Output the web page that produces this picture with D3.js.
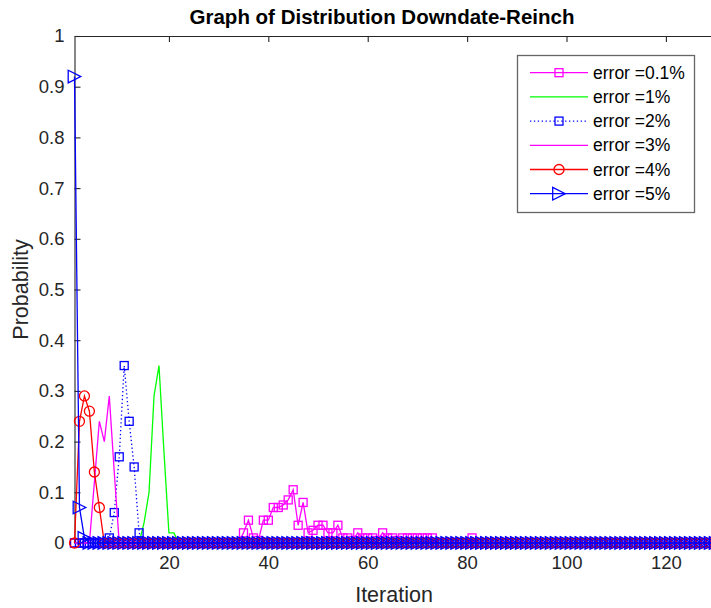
<!DOCTYPE html>
<html>
<head>
<meta charset="utf-8">
<script src="https://cdn.jsdelivr.net/npm/d3@7"></script>
<style>
  body { margin: 0; background: #fff; }
  svg { display: block; font-family: "Liberation Sans", Arial, sans-serif; }
</style>
</head>
<body>
<svg id="chart" width="711" height="608"></svg>
<script>
// Iteration index for each probability value (1..130)
const iterations = d3.range(1, 131);

// Probability per iteration, one array per error level
const err01 = [
  0,0,0,0,0,0,0,0,0,0,
  0,0,0,0,0,0,0,0,0,0,
  0,0,0,0,0,0,0,0,0,0,
  0,0,0,0,0.02,0.045,0.01,0.005,0.045,0.045,
  0.07,0.07,0.075,0.085,0.105,0.035,0.08,0.02,0.025,0.035,
  0.035,0.02,0.02,0.035,0.01,0.01,0.005,0.02,0.01,0.01,
  0.01,0.005,0.02,0.01,0.01,0.005,0.01,0.01,0.01,0.01,
  0.01,0.01,0.01,0,0,0,0,0,0,0,
  0.01,0,0,0,0,0,0,0,0,0,
  0,0,0,0,0,0,0,0,0,0,
  0,0,0,0,0,0,0,0,0,0,
  0,0,0,0,0,0,0,0,0,0,
  0,0,0,0,0,0,0,0,0,0
];
const err1 = [
  0,0,0,0,0,0,0,0,0,0,
  0,0,0,0,0.04,0.1,0.29,0.35,0.18,0.02,
  0.02,0,0,0,0,0,0,0,0,0,
  0,0,0,0,0,0,0,0,0,0,
  0,0,0,0,0,0,0,0,0,0,
  0,0,0,0,0,0,0,0,0,0,
  0,0,0,0,0,0,0,0,0,0,
  0,0,0,0,0,0,0,0,0,0,
  0,0,0,0,0,0,0,0,0,0,
  0,0,0,0,0,0,0,0,0,0,
  0,0,0,0,0,0,0,0,0,0,
  0,0,0,0,0,0,0,0,0,0,
  0,0,0,0,0,0,0,0,0,0
];
const err2 = [
  0,0,0,0,0,0,0,0.01,0.06,0.17,
  0.35,0.24,0.15,0.02,0,0,0,0,0,0,
  0,0,0,0,0,0,0,0,0,0,
  0,0,0,0,0,0,0,0,0,0,
  0,0,0,0,0,0,0,0,0,0,
  0,0,0,0,0,0,0,0,0,0,
  0,0,0,0,0,0,0,0,0,0,
  0,0,0,0,0,0,0,0,0,0,
  0,0,0,0,0,0,0,0,0,0,
  0,0,0,0,0,0,0,0,0,0,
  0,0,0,0,0,0,0,0,0,0,
  0,0,0,0,0,0,0,0,0,0,
  0,0,0,0,0,0,0,0,0,0
];
const err3 = [
  0,0,0,0,0.12,0.24,0.2,0.29,0.14,0,
  0,0,0,0,0,0,0,0,0,0,
  0,0,0,0,0,0,0,0,0,0,
  0,0,0,0,0,0,0,0,0,0,
  0,0,0,0,0,0,0,0,0,0,
  0,0,0,0,0,0,0,0,0,0,
  0,0,0,0,0,0,0,0,0,0,
  0,0,0,0,0,0,0,0,0,0,
  0,0,0,0,0,0,0,0,0,0,
  0,0,0,0,0,0,0,0,0,0,
  0,0,0,0,0,0,0,0,0,0,
  0,0,0,0,0,0,0,0,0,0,
  0,0,0,0,0,0,0,0,0,0
];
const err4 = [
  0,0.24,0.29,0.26,0.14,0.07,0,0,0,0,
  0,0,0,0,0,0,0,0,0,0,
  0,0,0,0,0,0,0,0,0,0,
  0,0,0,0,0,0,0,0,0,0,
  0,0,0,0,0,0,0,0,0,0,
  0,0,0,0,0,0,0,0,0,0,
  0,0,0,0,0,0,0,0,0,0,
  0,0,0,0,0,0,0,0,0,0,
  0,0,0,0,0,0,0,0,0,0,
  0,0,0,0,0,0,0,0,0,0,
  0,0,0,0,0,0,0,0,0,0,
  0,0,0,0,0,0,0,0,0,0,
  0,0,0,0,0,0,0,0,0,0
];
const err5 = [
  0.92,0.07,0.01,0,0,0,0,0,0,0,
  0,0,0,0,0,0,0,0,0,0,
  0,0,0,0,0,0,0,0,0,0,
  0,0,0,0,0,0,0,0,0,0,
  0,0,0,0,0,0,0,0,0,0,
  0,0,0,0,0,0,0,0,0,0,
  0,0,0,0,0,0,0,0,0,0,
  0,0,0,0,0,0,0,0,0,0,
  0,0,0,0,0,0,0,0,0,0,
  0,0,0,0,0,0,0,0,0,0,
  0,0,0,0,0,0,0,0,0,0,
  0,0,0,0,0,0,0,0,0,0,
  0,0,0,0,0,0,0,0,0,0
];

const seriesNames = ["error =0.1%", "error =1%", "error =2%", "error =3%", "error =4%", "error =5%"];
const seriesValues = [err01, err1, err2, err3, err4, err5];

// Axis ticks
const xTicks = [20, 40, 60, 80, 100, 120];
const yTicks = [0, 0.1, 0.2, 0.3, 0.4, 0.5, 0.6, 0.7, 0.8, 0.9, 1];

// Line / marker styling per series
const styles = [
  { color: "#ff00ff", dash: null,    marker: "square" },
  { color: "#00ff00", dash: null,    marker: null },
  { color: "#0000ff", dash: "1.3,2.6", marker: "square" },
  { color: "#ff00ff", dash: null,    marker: null },
  { color: "#ff0000", dash: null,    marker: "circle" },
  { color: "#0000ff", dash: null,    marker: "triangle" }
];
const lineWidth = 1.3;

const svg = d3.select("#chart");
const axisColor = "#262626";

const x = d3.scaleLinear().domain([1, 130]).range([74.5, 715.6]);
const y = d3.scaleLinear().domain([0, 1]).range([543, 36]);

// Axes box: left and bottom axes with inward ticks, top edge mirrored
const gx = svg.append("g")
  .attr("transform", `translate(0,${y(0)})`)
  .call(d3.axisBottom(x).tickValues(xTicks).tickSizeInner(-6).tickSizeOuter(0).tickPadding(13));
const gTop = svg.append("g")
  .attr("transform", `translate(0,${y(1)})`)
  .call(d3.axisTop(x).tickValues(xTicks).tickSizeInner(-6).tickSizeOuter(0).tickFormat(""));
const gy = svg.append("g")
  .attr("transform", `translate(${x(1)},0)`)
  .call(d3.axisLeft(y).tickValues(yTicks).tickSizeInner(-6).tickSizeOuter(0).tickPadding(10)
    .tickFormat(d3.format("~g")));

[gx, gTop, gy].forEach(g => {
  g.selectAll("path.domain").attr("stroke", axisColor).attr("stroke-width", 1.1);
  g.selectAll(".tick line").attr("stroke", axisColor).attr("stroke-width", 1.1);
  g.selectAll(".tick text").attr("fill", axisColor)
    .style("font-family", '"Liberation Sans", Arial, sans-serif').style("font-size", "18.5px");
});

// Marker drawing helper
function drawMarker(g, type, cx, cy, color) {
  if (type === "square") {
    g.append("rect").attr("x", cx - 4).attr("y", cy - 4).attr("width", 8).attr("height", 8)
      .attr("fill", "none").attr("stroke", color).attr("stroke-width", lineWidth);
  } else if (type === "circle") {
    g.append("circle").attr("cx", cx).attr("cy", cy).attr("r", 5)
      .attr("fill", "none").attr("stroke", color).attr("stroke-width", lineWidth);
  } else if (type === "triangle") {
    const r = 6.3;
    g.append("path")
      .attr("d", `M${cx - r},${cy - r}L${cx + r},${cy}L${cx - r},${cy + r}Z`)
      .attr("fill", "none").attr("stroke", color).attr("stroke-width", lineWidth);
  }
}

const line = d3.line().x(d => x(d[0])).y(d => y(d[1]));

const plot = svg.append("g");
seriesValues.forEach((vals, i) => {
  const st = styles[i];
  const pts = vals.map((v, j) => [iterations[j], v]);
  const g = plot.append("g");
  g.append("path").datum(pts).attr("d", line)
    .attr("fill", "none").attr("stroke", st.color).attr("stroke-width", lineWidth)
    .attr("stroke-dasharray", st.dash);
  if (st.marker) pts.forEach(p => drawMarker(g, st.marker, x(p[0]), y(p[1]), st.color));
});

// Title and axis labels
svg.append("text").attr("x", 382).attr("y", 24).attr("text-anchor", "middle")
  .style("font-size", "20.5px").style("font-weight", "bold").attr("fill", "#000")
  .text("Graph of Distribution Downdate-Reinch");
svg.append("text").attr("x", 394).attr("y", 602).attr("text-anchor", "middle")
  .style("font-size", "21.5px").attr("fill", axisColor).text("Iteration");
svg.append("text").attr("transform", `translate(28,${(y(0) + y(1)) / 2}) rotate(-90)`)
  .attr("text-anchor", "middle").style("font-size", "21.5px").attr("fill", axisColor)
  .text("Probability");

// Legend
const legend = svg.append("g");
legend.append("rect").attr("x", 517.5).attr("y", 55.5).attr("width", 177).attr("height", 157)
  .attr("fill", "#fff").attr("stroke", "#666").attr("stroke-width", 1.3);
seriesNames.forEach((name, i) => {
  const st = styles[i];
  const ry = 72.7 + i * 24.2;
  const row = legend.append("g");
  row.append("line").attr("x1", 530).attr("x2", 588).attr("y1", ry).attr("y2", ry)
    .attr("stroke", st.color).attr("stroke-width", lineWidth).attr("stroke-dasharray", st.dash);
  if (st.marker) drawMarker(row, st.marker, 559, ry, st.color);
  row.append("text").attr("x", 593).attr("y", ry).attr("dy", "0.35em")
    .style("font-size", "17.5px").attr("fill", "#000").text(name);
});
</script>
</body>
</html>
